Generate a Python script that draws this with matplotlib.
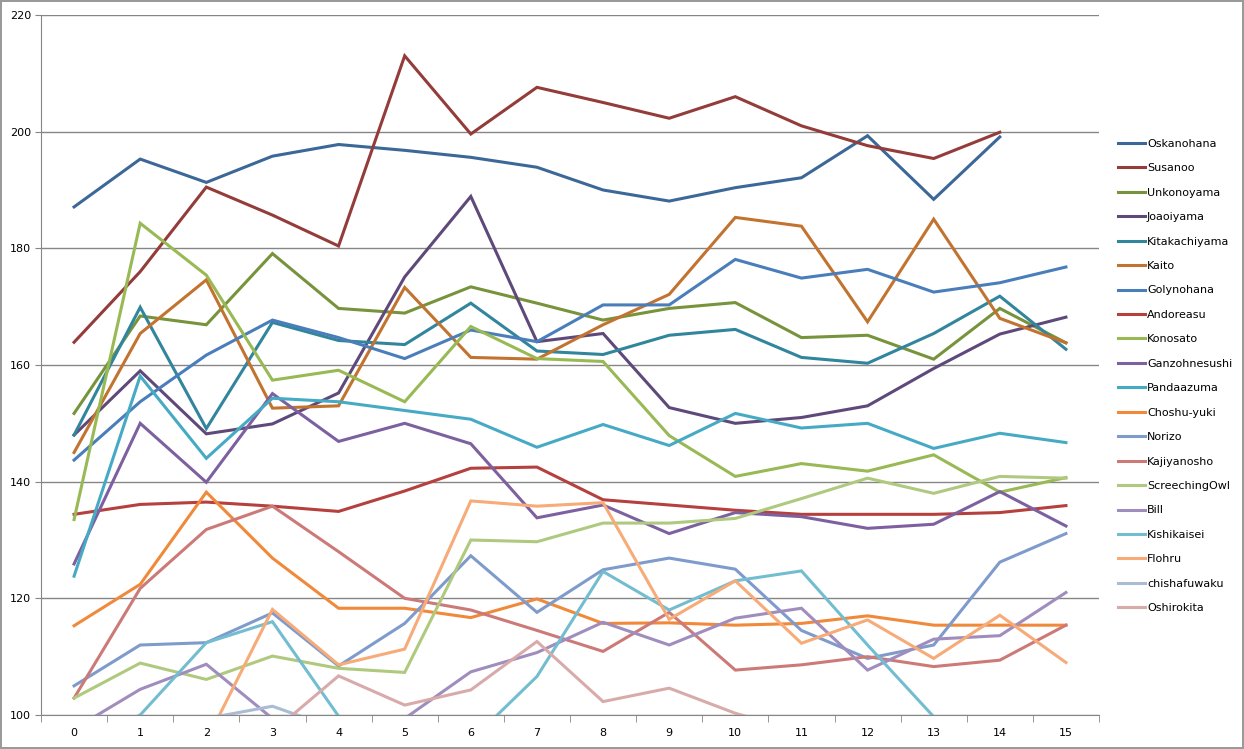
import numpy as np
import matplotlib
matplotlib.use('Agg')
import matplotlib.pyplot as plt

nan = np.nan
rounds = list(range(16))

names = ['Oskanohana', 'Susanoo', 'Unkonoyama', 'Joaoiyama', 'Kitakachiyama',
         'Kaito', 'Golynohana', 'Andoreasu', 'Konosato', 'Ganzohnesushi',
         'Pandaazuma', 'Choshu-yuki', 'Norizo', 'Kajiyanosho', 'ScreechingOwl',
         'Bill', 'Kishikaisei', 'Flohru', 'chishafuwaku', 'Oshirokita']

oskanohana = [187.1, 195.3, 191.3, 195.8, 197.8, 196.8, 195.6, 193.9, 190.0, 188.1, 190.4, 192.1, 199.3, 188.4, 199.1, nan]
susanoo = [163.9, 176.0, 190.5, 185.7, 180.4, 213.0, 199.6, 207.6, 205.0, 202.3, 206.0, 201.0, 197.6, 195.4, 199.9, nan]
unkonoyama = [151.7, 168.4, 166.9, 179.1, 169.7, 168.9, 173.4, 170.6, 167.7, 169.7, 170.7, 164.7, 165.1, 161.0, 169.7, 163.8]
joaoiyama = [148.0, 159.0, 148.2, 149.9, 155.2, 175.1, 188.9, 164.0, 165.4, 152.7, 150.0, 151.0, 153.0, 159.4, 165.3, 168.2]
kitakachiyama = [148.0, 169.9, 149.1, 167.3, 164.2, 163.5, 170.6, 162.4, 161.8, 165.1, 166.1, 161.3, 160.3, 165.4, 171.8, 162.7]
kaito = [145.0, 165.4, 174.6, 152.6, 153.0, 173.3, 161.3, 161.0, 166.9, 172.1, 185.3, 183.8, 167.4, 185.0, 168.0, 163.8]
golynohana = [143.7, 153.7, 161.7, 167.7, 164.7, 161.1, 166.0, 164.0, 170.3, 170.3, 178.1, 174.9, 176.4, 172.5, 174.1, 176.8]
andoreasu = [134.4, 136.1, 136.5, 135.8, 134.9, 138.4, 142.3, 142.5, 136.9, 136.0, 135.1, 134.4, 134.4, 134.4, 134.7, 135.9]
konosato = [133.5, 184.3, 175.4, 157.4, 159.1, 153.7, 166.6, 161.1, 160.6, 147.9, 140.9, 143.1, 141.8, 144.6, 138.2, 140.7]
ganzohnesushi = [125.9, 150.0, 139.9, 155.1, 146.9, 150.0, 146.5, 133.8, 136.0, 131.1, 134.7, 134.0, 132.0, 132.7, 138.3, 132.4]
pandaazuma = [123.8, 158.1, 144.0, 154.3, 153.7, 152.2, 150.7, 145.9, 149.8, 146.2, 151.7, 149.2, 150.0, 145.7, 148.3, 146.7]
choshu_yuki = [115.3, 122.4, 138.2, 126.9, 118.3, 118.3, 116.7, 119.9, 115.7, 115.8, 115.4, 115.7, 117.0, 115.4, 115.4, 115.4]
norizo = [105.0, 112.0, 112.4, 117.5, 108.4, 115.7, 127.3, 117.6, 124.9, 126.9, 125.0, 114.5, 109.7, 112.0, 126.2, 131.1]
kajiyanosho = [102.9, 121.7, 131.8, 135.8, 128.0, 120.0, 118.0, 114.5, 110.9, 117.6, 107.7, 108.6, 110.0, 108.3, 109.4, 115.4]
screechingowl = [102.9, 108.9, 106.1, 110.1, 108.0, 107.3, 130.0, 129.7, 132.9, 132.9, 133.7, 137.1, 140.6, 138.0, 140.9, 140.6]
bill = [97.6, 104.4, 108.7, 99.4, 95.0, 99.4, 107.4, 110.7, 115.9, 112.0, 116.6, 118.3, 107.7, 113.0, 113.6, 121.0]
kishikaisei = [95.0, 100.0, 112.4, 116.0, 99.8, 93.0, 95.6, 106.6, 124.6, 118.0, 123.0, 124.7, 112.0, 99.7, 95.0, 94.0]
flohru = [92.0, 93.0, 95.5, 118.1, 108.6, 111.3, 136.7, 135.8, 136.4, 116.4, 123.0, 112.3, 116.3, 109.7, 117.1, 109.0]
chishafuwaku = [95.0, 96.0, 99.4, 101.5, 97.5, 95.0, 94.0, 95.0, 96.0, 95.0, 94.0, 95.0, 96.0, 95.0, 94.0, 95.0]
oshirokita = [94.0, 95.0, 96.0, 97.1, 106.7, 101.7, 104.3, 112.6, 102.3, 104.6, 100.3, 97.0, 96.0, 95.0, 96.0, 95.0]

series = [oskanohana, susanoo, unkonoyama, joaoiyama, kitakachiyama, kaito,
          golynohana, andoreasu, konosato, ganzohnesushi, pandaazuma, choshu_yuki,
          norizo, kajiyanosho, screechingowl, bill, kishikaisei, flohru,
          chishafuwaku, oshirokita]

colors = ['#3C6897', '#933C39', '#77933C', '#5F497A', '#31859C', '#C2732F',
          '#4A7EBB', '#B5403D', '#98B954', '#7D60A0', '#46AAC5', '#F0893A',
          '#7E9BCB', '#CC7A78', '#AFC97E', '#A08DBD', '#72BDD0', '#F6AB78',
          '#AABBD5', '#D8ABAA']

fig = plt.figure(figsize=(12.44, 7.49), dpi=100, edgecolor='#9a9a9a', linewidth=1.5)
ax = fig.add_axes([41 / 1244, 1 - 715 / 749, (1099 - 41) / 1244, 700 / 749])

for vals, name, c in zip(series, names, colors):
    ax.plot(rounds, vals, color=c, lw=2.2, label=name, solid_joinstyle='miter')

ax.set_xlim(-0.5, 15.5)
ax.set_ylim(100, 220)
ax.set_yticks(range(100, 221, 20))
ax.set_xticks(rounds)
ax.set_xticks(np.arange(-0.5, 16, 1), minor=True)
ax.tick_params(axis='x', which='major', length=0, pad=9, labelsize=8)
ax.tick_params(axis='x', which='minor', length=5, color='#868686', direction='out')
ax.tick_params(axis='y', length=4, color='#868686', labelsize=8, pad=3)
ax.grid(axis='y', color='#868686', lw=1)
ax.set_axisbelow(True)
for s in ['top', 'right']:
    ax.spines[s].set_visible(False)
for s in ['left', 'bottom']:
    ax.spines[s].set_color('#868686')

fig.legend(loc='center left', bbox_to_anchor=(1108 / 1244, 1 - 376 / 749),
           frameon=False, fontsize=8, handlelength=2.4, handletextpad=0.2,
           labelspacing=1.3)

fig.savefig('out.png', dpi=100)
